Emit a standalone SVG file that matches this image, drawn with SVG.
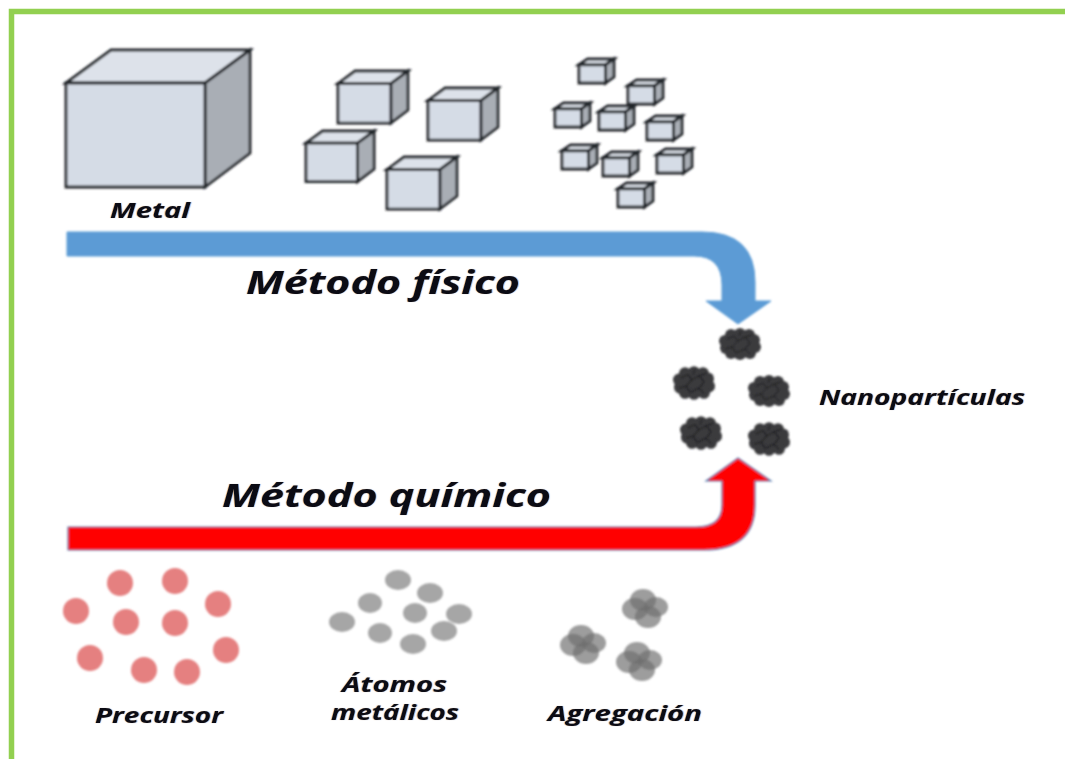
<svg xmlns="http://www.w3.org/2000/svg" width="1065" height="759" viewBox="0 0 1065 759">
<style>
text{font-family:"Open Sans","Noto Sans","Liberation Sans",sans-serif;font-weight:700;font-style:italic;fill:#0b0b14;text-shadow:-.6px 0 .6px rgba(230,130,20,.5),.6px 0 .6px rgba(40,120,230,.5)}
.sm{font-size:21px}
.lg{font-size:33px}
.edge{stroke:#23262b;stroke-linejoin:miter;vector-effect:non-scaling-stroke}
.front{fill:#d5dce6}.top{fill:#dde2ea}.side{fill:#a9aeb5}
#small-cubes .top{fill:#9da2a8}
#small-cubes .side{fill:#74787e}
.red{fill:#e58080}
.grey{fill:#a6a6a6}
.ag{fill:#6f6f6f;fill-opacity:.68}
.lump{fill:#3a3a3c}
.crack{fill:none;stroke:#1a1a1c;stroke-width:1}
</style>
<defs>
<filter id="soft" x="-10%" y="-10%" width="120%" height="120%"><feGaussianBlur stdDeviation="0.9"/></filter>
<g id="cube">
<polygon class="top edge" points="0,33 45,0 184,0 139,33"/>
<polygon class="side edge" points="139,33 184,0 184,103 139,137"/>
<rect class="front edge" x="0" y="33" width="139" height="104"/>
</g>
<g id="particle">
<ellipse class="lump" cx="0" cy="0" rx="18" ry="14"/>
<circle class="lump" cx="0" cy="-10" r="6"/><circle class="lump" cx="9" cy="-9" r="6"/><circle class="lump" cx="14" cy="-4" r="6"/>
<circle class="lump" cx="15" cy="3" r="6"/><circle class="lump" cx="10" cy="9" r="6"/>
<circle class="lump" cx="0" cy="10" r="6"/><circle class="lump" cx="-9" cy="9" r="6"/><circle class="lump" cx="-14" cy="4" r="6"/>
<circle class="lump" cx="-15" cy="-3" r="6"/><circle class="lump" cx="-9" cy="-9" r="6"/>
<path class="crack" d="M-13-5 L-6-8 L-2-3 L5-7 L10-1 M-2-3 L-8 3 L-4 9 M10-1 L5 5 L10 10 M-15 5 L-8 3 M5 5 L-4 9 M1-13 L-1-8 M12-9 L5-7"/>
</g>
<g id="aggregate">
<ellipse class="ag" cx="-2" cy="-9" rx="13" ry="11"/>
<ellipse class="ag" cx="11" cy="-2" rx="12" ry="10"/>
<ellipse class="ag" cx="-10" cy="0" rx="13" ry="11"/>
<ellipse class="ag" cx="3" cy="8" rx="13" ry="11"/>
</g>
</defs>

<!-- frame -->
<path d="M11.500 770 V11.500 H1075" fill="none" stroke="#92d050" stroke-width="5.500"/>

<g filter="url(#soft)">
<g id="metal-block" style="stroke-width:2.800"><use href="#cube" transform="translate(66 50)"/></g>

<g id="medium-cubes" style="stroke-width:2.800">
<use href="#cube" transform="translate(338 71) scale(.38 .38)"/>
<use href="#cube" transform="translate(428 88) scale(.38 .38)"/>
<use href="#cube" transform="translate(306 131) scale(.37 .37)"/>
<use href="#cube" transform="translate(387 157) scale(.38 .38)"/>
</g>

<g id="small-cubes" style="stroke-width:2.800">
<use href="#cube" transform="translate(579 59) scale(.19 .175)"/>
<use href="#cube" transform="translate(628 80) scale(.19 .175)"/>
<use href="#cube" transform="translate(555 103) scale(.19 .175)"/>
<use href="#cube" transform="translate(599 106) scale(.19 .175)"/>
<use href="#cube" transform="translate(647 116) scale(.19 .175)"/>
<use href="#cube" transform="translate(562 145) scale(.19 .175)"/>
<use href="#cube" transform="translate(603 152) scale(.19 .175)"/>
<use href="#cube" transform="translate(657 149) scale(.19 .175)"/>
<use href="#cube" transform="translate(618 183) scale(.19 .175)"/>
</g>

<g id="connectors">
<path id="physical-route" d="M67 232 H702 Q755 232 755 282 V301 H771 L738 324 L706 301 H722 V285 Q722 256 694 256 H67 Z" fill="#5b9bd5" stroke="#5b9bd5" stroke-width="1"/>
<path id="chemical-route" d="M68 527 H696 Q722 527 722 505 V481 H706 L738 458 L771 481 H755 V505 Q755 550 704 550 H68 Z" fill="#ff0000" stroke="#5b7fb0" stroke-width="1.200"/>
</g>

<g id="nanoparticles">
<use href="#particle" transform="translate(740 344)"/>
<use href="#particle" transform="translate(694 383) scale(1 1.050)"/>
<use href="#particle" transform="translate(769 391)"/>
<use href="#particle" transform="translate(701 433) scale(1 1.050)"/>
<use href="#particle" transform="translate(769 439) scale(1 1.050)"/>
</g>

<g id="precursor">
<circle class="red" cx="120" cy="583" r="13"/><circle class="red" cx="175" cy="581" r="13"/>
<circle class="red" cx="76" cy="611" r="13"/><circle class="red" cx="218" cy="604" r="13"/>
<circle class="red" cx="126" cy="622" r="13"/><circle class="red" cx="175" cy="623" r="13"/>
<circle class="red" cx="90" cy="658" r="13"/><circle class="red" cx="144" cy="670" r="13"/>
<circle class="red" cx="187" cy="672" r="13"/><circle class="red" cx="226" cy="650" r="13"/>
</g>

<g id="metal-atoms">
<ellipse class="grey" cx="398" cy="580" rx="13" ry="10"/><ellipse class="grey" cx="430" cy="593" rx="13" ry="10"/>
<ellipse class="grey" cx="370" cy="603" rx="12" ry="10"/><ellipse class="grey" cx="342" cy="622" rx="13" ry="10"/>
<ellipse class="grey" cx="415" cy="613" rx="12" ry="10"/><ellipse class="grey" cx="459" cy="614" rx="13" ry="10"/>
<ellipse class="grey" cx="380" cy="633" rx="12" ry="10"/><ellipse class="grey" cx="444" cy="631" rx="13" ry="10"/>
<ellipse class="grey" cx="413" cy="644" rx="13" ry="10"/>
</g>

<g id="aggregation">
<use href="#aggregate" transform="translate(645 609)"/>
<use href="#aggregate" transform="translate(583 645)"/>
<use href="#aggregate" transform="translate(639 662)"/>
</g>
</g>

<g id="labels">
<text class="sm" x="110" y="218" textLength="80" lengthAdjust="spacingAndGlyphs">Metal</text>
<text class="lg" x="246" y="294" textLength="274" lengthAdjust="spacingAndGlyphs">Método físico</text>
<text class="sm" x="819" y="405" textLength="206" lengthAdjust="spacingAndGlyphs">Nanopartículas</text>
<text class="lg" x="222" y="507" textLength="329" lengthAdjust="spacingAndGlyphs">Método químico</text>
<text class="sm" x="95" y="723" textLength="128" lengthAdjust="spacingAndGlyphs">Precursor</text>
<text class="sm" x="342" y="692" textLength="105" lengthAdjust="spacingAndGlyphs">Átomos</text>
<text class="sm" x="331" y="720" textLength="128" lengthAdjust="spacingAndGlyphs">metálicos</text>
<text class="sm" x="548" y="721" textLength="154" lengthAdjust="spacingAndGlyphs">Agregación</text>
</g>
</svg>
